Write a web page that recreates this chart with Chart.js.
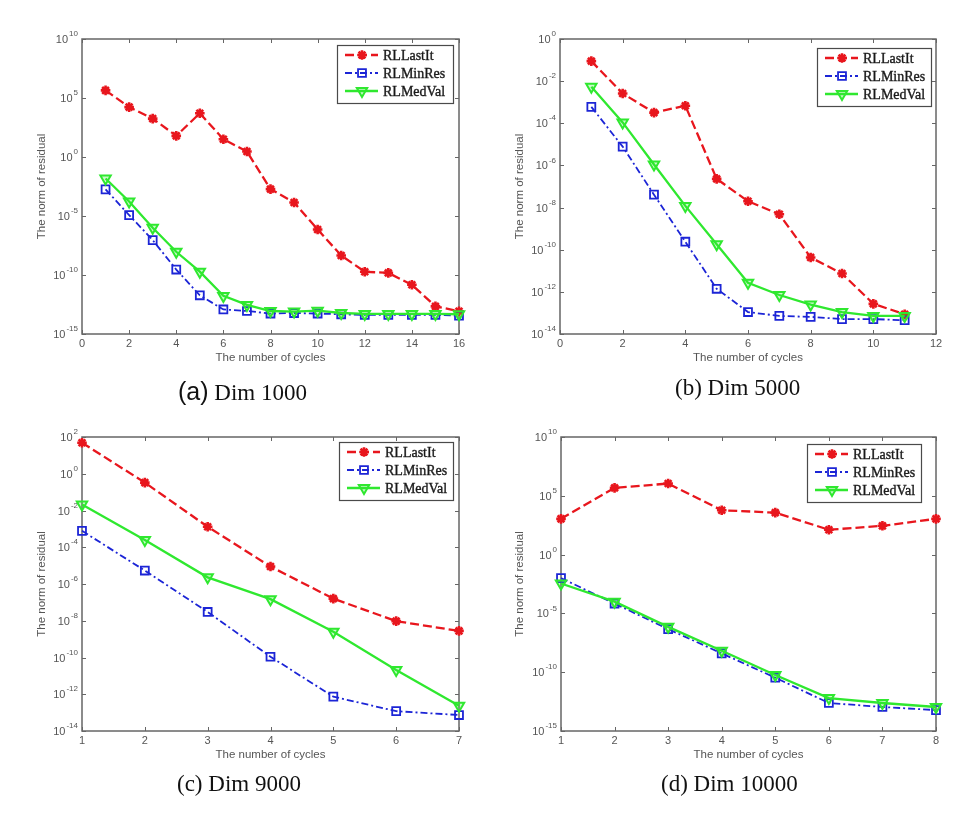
<!DOCTYPE html>
<html><head><meta charset="utf-8">
<script src="https://cdn.jsdelivr.net/npm/chart.js@4.4.1/dist/chart.umd.min.js"></script>
<style>
html,body{margin:0;padding:0;background:#fff;}
body{width:973px;height:822px;position:relative;overflow:hidden;}
.panel{position:absolute;}
canvas{display:block;}
.cap{position:absolute;font-family:"Liberation Serif","Times New Roman",serif;font-size:23px;line-height:26px;color:#111;white-space:nowrap;}
.cap .tag{font-family:"Liberation Sans",Arial,sans-serif;font-size:25px;line-height:26px;}
</style></head><body>
<div class="panel" style="left:0;top:0"><canvas id="cA" width="486" height="372"></canvas></div>
<div class="panel" style="left:486px;top:0"><canvas id="cB" width="487" height="372"></canvas></div>
<div class="panel" style="left:0;top:400px"><canvas id="cC" width="486" height="372"></canvas></div>
<div class="panel" style="left:486px;top:400px"><canvas id="cD" width="487" height="372"></canvas></div>
<div class="cap" style="left:178px;top:378px"><span class="tag">(a)</span> Dim 1000</div>
<div class="cap" style="left:675px;top:375px">(b) Dim 5000</div>
<div class="cap" style="left:177px;top:771px">(c) Dim 9000</div>
<div class="cap" style="left:661px;top:771px">(d) Dim 10000</div>
<script>
// ---------------- data ----------------
const seriesNames = ['RLLastIt', 'RLMinRes', 'RLMedVal'];
const xTitle = 'The number of cycles';
const yTitle = 'The norm of residual';

// (a) Dim 1000
const cyclesA = [1,2,3,4,5,6,7,8,9,10,11,12,13,14,15,16];
const lastItA = [4.4e5,1.7e4,1.8e3,62,5.1e3,32,2.9,1.9e-3,1.4e-4,7.2e-7,4.5e-9,1.9e-10,1.5e-10,1.5e-11,2.2e-13,8.5e-14];
const minResA = [1.8e-3,1.2e-5,9.1e-8,2.9e-10,1.9e-12,1.2e-13,8.9e-14,5.4e-14,6.0e-14,5.4e-14,4.7e-14,4.1e-14,4.1e-14,4.1e-14,4.1e-14,3.6e-14];
const medValA = [1.5e-2,1.7e-4,1.0e-6,9.3e-9,1.9e-10,1.7e-12,2.9e-13,8.9e-14,7.9e-14,9.5e-14,6.0e-14,5.0e-14,5.0e-14,5.0e-14,5.0e-14,4.7e-14];
const xTicksA = [0,2,4,6,8,10,12,14,16];
const yTicksA = [1e-15,1e-10,1e-5,1e0,1e5,1e10];

// (b) Dim 5000
const cyclesB = [1,2,3,4,5,6,7,8,9,10,11];
const lastItB = [8.9e-2,2.6e-3,3.2e-4,6.8e-4,2.3e-7,2.0e-8,4.8e-9,4.3e-11,7.4e-12,2.7e-13,8.7e-14];
const minResB = [6.0e-4,7.8e-6,4.1e-8,2.4e-10,1.4e-12,1.1e-13,7.2e-14,6.5e-14,5.1e-14,5.1e-14,4.5e-14];
const medValB = [5.4e-3,1.1e-4,1.1e-6,1.2e-8,1.8e-10,2.7e-12,7.1e-13,2.5e-13,1.1e-13,7.2e-14,7.2e-14];
const xTicksB = [0,2,4,6,8,10,12];
const yTicksB = [1e-14,1e-12,1e-10,1e-8,1e-6,1e-4,1e-2,1e0];

// (c) Dim 9000
const cyclesC = [1,2,3,4,5,6,7];
const lastItC = [49,0.33,1.3e-3,8.9e-6,1.6e-7,9.5e-9,2.8e-9];
const minResC = [7.8e-4,5.4e-6,3.0e-8,1.1e-10,7.4e-13,1.2e-13,7.4e-14];
const medValC = [2.1e-2,2.5e-4,2.3e-6,1.5e-7,2.5e-9,2.1e-11,2.4e-13];
const xTicksC = [1,2,3,4,5,6,7];
const yTicksC = [1e-14,1e-12,1e-10,1e-8,1e-6,1e-4,1e-2,1e0,1e2];

// (d) Dim 10000
const cyclesD = [1,2,3,4,5,6,7,8];
const lastItD = [1.1e3,4.7e5,1.1e6,5.9e3,3.7e3,1.3e2,2.8e2,1.1e3];
const minResD = [1.0e-2,6.9e-5,4.6e-7,4.0e-9,3.4e-11,2.4e-13,1.1e-13,6.0e-14];
const medValD = [3.5e-3,1.0e-4,7.2e-7,6.6e-9,5.8e-11,6.3e-13,2.4e-13,1.1e-13];
const xTicksD = [1,2,3,4,5,6,7,8];
const yTicksD = [1e-15,1e-10,1e-5,1e0,1e5,1e10];

// ---------------- styles ----------------
const SANS = '"Liberation Sans", Arial, Helvetica, sans-serif';
const SERIF = '"Liberation Serif", "Times New Roman", serif';
const TXT = '#555555';
const FRAME = '#666666';
const styles = [
  {color:'#e8161d', width:2.3, dash:[9,4], point:'star', radius:4.8, pw:2.6, bg:'#e8161d', rot:0},
  {color:'#1c25d6', width:1.8, dash:[7,3,2,3], point:'rect', radius:5.6, pw:1.8, bg:'rgba(255,255,255,0)', rot:0},
  {color:'#2fe82f', width:2.3, dash:[], point:'triangle', radius:6, pw:2, bg:'rgba(47,232,47,0.25)', rot:180}
];

function drawMarker(ctx, s, x, y){
  ctx.save();
  ctx.setLineDash([]);
  ctx.strokeStyle = s.color; ctx.fillStyle = s.bg; ctx.lineWidth = s.pw;
  const r = s.radius;
  ctx.beginPath();
  if (s.point === 'star'){
    for (let k=0;k<8;k++){
      const a = k*Math.PI/4;
      ctx.moveTo(x,y); ctx.lineTo(x+Math.cos(a)*r, y+Math.sin(a)*r);
    }
    ctx.stroke();
  } else if (s.point === 'rect'){
    const h = Math.SQRT1_2*r;
    ctx.rect(x-h,y-h,2*h,2*h); ctx.fill(); ctx.stroke();
  } else {
    let rad = s.rot*Math.PI/180;
    for (let k=0;k<3;k++){
      const px = x+Math.sin(rad)*r, py = y-Math.cos(rad)*r;
      if (k===0) ctx.moveTo(px,py); else ctx.lineTo(px,py);
      rad += 2*Math.PI/3;
    }
    ctx.closePath(); ctx.fill(); ctx.stroke();
  }
  ctx.restore();
}

const framePlugin = {
  id:'matFrame',
  beforeDatasetsDraw(chart){
    const {ctx, chartArea:ca, scales:{x, y}} = chart;
    ctx.save();
    ctx.strokeStyle = FRAME; ctx.lineWidth = 1.5;
    ctx.strokeRect(ca.left, ca.top, ca.right-ca.left, ca.bottom-ca.top);
    ctx.lineWidth = 1;
    ctx.beginPath();
    x.ticks.forEach(t=>{
      const px = Math.round(x.getPixelForValue(t.value))+0.5;
      ctx.moveTo(px, ca.bottom); ctx.lineTo(px, ca.bottom-4);
      ctx.moveTo(px, ca.top); ctx.lineTo(px, ca.top+4);
    });
    y.ticks.forEach(t=>{
      const py = Math.round(y.getPixelForValue(t.value))+0.5;
      ctx.moveTo(ca.left, py); ctx.lineTo(ca.left+4, py);
      ctx.moveTo(ca.right, py); ctx.lineTo(ca.right-4, py);
    });
    ctx.stroke();
    // y tick labels as 10 with superscript exponent
    ctx.fillStyle = TXT; ctx.textBaseline = 'middle'; ctx.textAlign = 'left';
    y.ticks.forEach(t=>{
      const py = y.getPixelForValue(t.value);
      const e = String(Math.round(Math.log10(t.value)));
      ctx.font = '8px ' + SANS;
      const ew = ctx.measureText(e).width;
      ctx.font = '11px ' + SANS;
      const bw = ctx.measureText('10').width;
      const right = ca.left - 4;
      ctx.fillText('10', right-ew-bw-1, py+1);
      ctx.font = '8px ' + SANS;
      ctx.fillText(e, right-ew, py-5);
    });
    ctx.restore();
  },
  afterDatasetsDraw(chart){
    const lg = chart.options.plugins.matFrame;
    if (!lg) return;
    const ctx = chart.ctx;
    ctx.save();
    ctx.fillStyle = '#fff';
    ctx.fillRect(lg.x, lg.y, lg.w, lg.h);
    ctx.strokeStyle = '#4a4a4a'; ctx.lineWidth = 1.2;
    ctx.strokeRect(lg.x+0.5, lg.y+0.5, lg.w, lg.h);
    seriesNames.forEach((name,i)=>{
      const s = styles[i];
      const ry = lg.y + 10 + i*18;
      ctx.save();
      ctx.strokeStyle = s.color; ctx.lineWidth = s.width; ctx.setLineDash(s.dash);
      ctx.beginPath(); ctx.moveTo(lg.x+8, ry); ctx.lineTo(lg.x+41, ry); ctx.stroke();
      ctx.restore();
      drawMarker(ctx, s, lg.x+25, ry);
      ctx.fillStyle = '#1a1a1a'; ctx.font = '14px ' + SERIF;
      ctx.strokeStyle = '#1a1a1a'; ctx.lineWidth = 0.35;
      ctx.textBaseline = 'middle'; ctx.textAlign = 'left';
      ctx.fillText(name, lg.x+46, ry+1);
      ctx.strokeText(name, lg.x+46, ry+1);
    });
    ctx.restore();
  }
};

const TITLE_SIZE = 11.5, TITLE_HALF = TITLE_SIZE*1.2/2;

function makePanel(id, p){
  const cv = document.getElementById(id);
  const W = cv.width, H = cv.height;
  const padL = p.yTitleX - TITLE_HALF;
  const padB = H - (p.xTitleY + TITLE_HALF);
  const yW = p.area.l - padL;
  const xH = p.xTitleY + TITLE_HALF - p.area.b;
  const series = [p.lastIt, p.minRes, p.medVal];
  const datasets = series.map((vals,i)=>{
    const s = styles[i];
    return {
      label: seriesNames[i],
      data: p.cycles.map((c,k)=>({x:c, y:vals[k]})),
      borderColor: s.color, borderWidth: s.width, borderDash: s.dash,
      pointStyle: s.point, pointRadius: s.radius, pointHoverRadius: s.radius,
      pointBorderWidth: s.pw, pointBorderColor: s.color, pointBackgroundColor: s.bg,
      pointRotation: s.rot, fill:false, tension:0, clip:false, order: 2-i
    };
  });
  new Chart(cv, {
    type:'line',
    data:{datasets},
    options:{
      responsive:false, animation:false, devicePixelRatio:1,
      layout:{padding:{left:padL, top:p.area.t, right:W-p.area.r, bottom:padB}},
      plugins:{legend:{display:false}, tooltip:{enabled:false}, matFrame:p.legend},
      scales:{
        x:{type:'linear', min:p.xTicks[0], max:p.xTicks[p.xTicks.length-1],
          afterBuildTicks:ax=>{ax.ticks = p.xTicks.map(v=>({value:v}));},
          afterFit:s=>{s.height = xH;},
          grid:{display:false, drawTicks:false}, border:{display:false},
          ticks:{color:TXT, font:{family:SANS, size:11}, padding:3, maxRotation:0, autoSkip:false},
          title:{display:true, text:xTitle, color:TXT, font:{family:SANS, size:TITLE_SIZE}, padding:{top:0,bottom:0}}
        },
        y:{type:'logarithmic', min:p.yTicks[0], max:p.yTicks[p.yTicks.length-1],
          afterBuildTicks:ax=>{ax.ticks = p.yTicks.map(v=>({value:v}));},
          afterFit:s=>{s.width = yW;},
          grid:{display:false, drawTicks:false}, border:{display:false},
          ticks:{display:false},
          title:{display:true, text:yTitle, color:TXT, font:{family:SANS, size:TITLE_SIZE}, padding:{top:0,bottom:0}}
        }
      }
    },
    plugins:[framePlugin]
  });
}

makePanel('cA', {cycles:cyclesA, lastIt:lastItA, minRes:minResA, medVal:medValA, xTicks:xTicksA, yTicks:yTicksA,
  area:{l:82,t:39,r:459,b:334}, yTitleX:42, xTitleY:358, legend:{x:337,y:45,w:116,h:58}});
makePanel('cB', {cycles:cyclesB, lastIt:lastItB, minRes:minResB, medVal:medValB, xTicks:xTicksB, yTicks:yTicksB,
  area:{l:74,t:39,r:450,b:334}, yTitleX:34, xTitleY:358, legend:{x:331,y:48,w:114,h:58}});
makePanel('cC', {cycles:cyclesC, lastIt:lastItC, minRes:minResC, medVal:medValC, xTicks:xTicksC, yTicks:yTicksC,
  area:{l:82,t:37,r:459,b:331}, yTitleX:42, xTitleY:355, legend:{x:339,y:42,w:114,h:58}});
makePanel('cD', {cycles:cyclesD, lastIt:lastItD, minRes:minResD, medVal:medValD, xTicks:xTicksD, yTicks:yTicksD,
  area:{l:75,t:37,r:450,b:331}, yTitleX:34, xTitleY:355, legend:{x:321,y:44,w:114,h:58}});
</script>
</body></html>
